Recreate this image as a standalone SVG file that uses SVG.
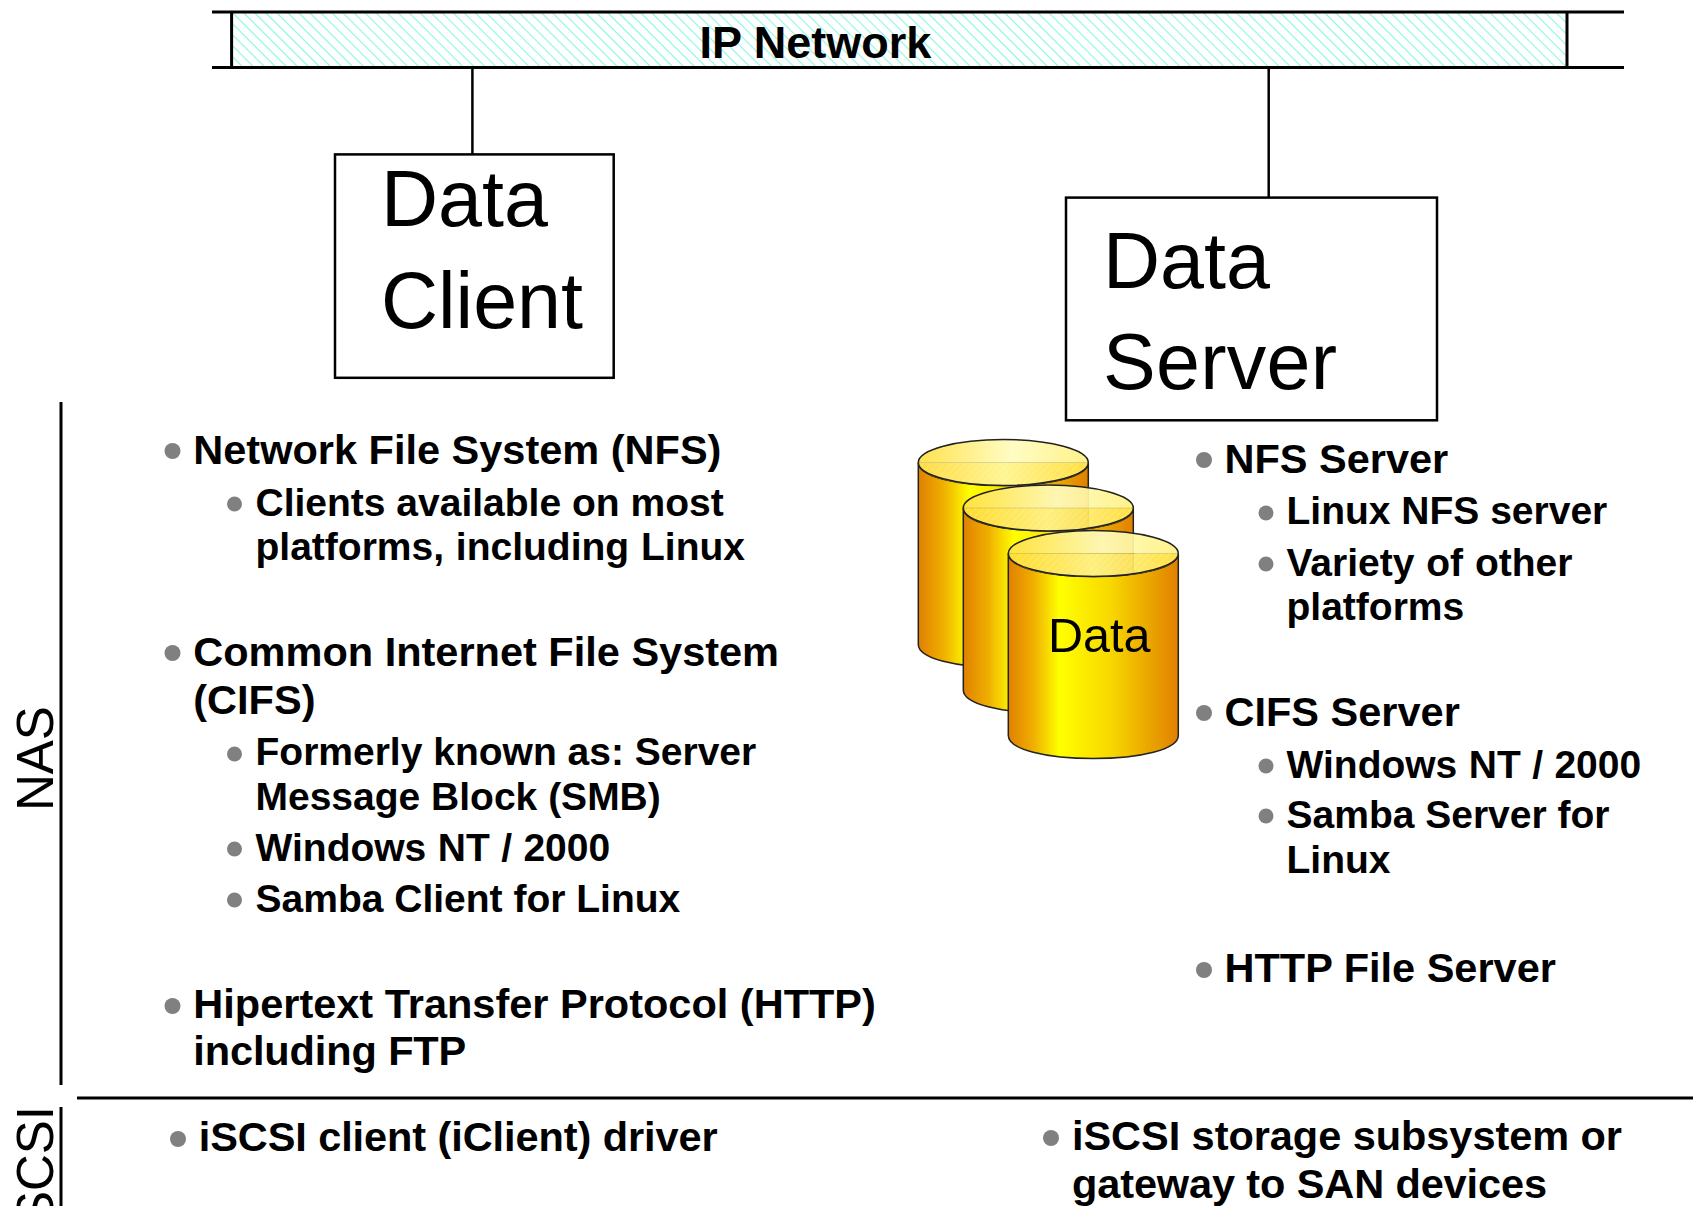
<svg xmlns="http://www.w3.org/2000/svg" width="1693" height="1206" viewBox="0 0 1693 1206">
<style>
text{font-family:"Liberation Sans",Arial,sans-serif;fill:#000}
.h{font-size:41.5px;font-weight:bold}
.s{font-size:39px;font-weight:bold}
.big{font-size:79px}
.side{font-size:51px}
.b1{fill:#808080}
.ln{stroke:#000;stroke-width:2.5;fill:none}
.thick{stroke:#000;stroke-width:3;fill:none}
.box{fill:#fff;stroke:#000;stroke-width:2.5}
.body{fill:url(#cylBody);stroke:#222;stroke-width:1.5}
.topU{fill:url(#cylTopU);fill-opacity:.93}
.topL{fill:url(#cylTopL);fill-opacity:.92}
.hatch{fill:url(#cylHatch)}
.rim{fill:none;stroke:#222;stroke-width:1.5}
.mid{stroke:#8a8a60;stroke-width:1;stroke-opacity:.3}
.ws1{word-spacing:1px}
.ws2{word-spacing:.6px}
</style>
<defs>
<pattern id="net" width="7.8" height="7.8" patternUnits="userSpaceOnUse" patternTransform="rotate(45)"><rect width="7.8" height="7.8" fill="#fff"/><rect width="7.8" height="1.1" fill="#88f8e0"/></pattern>
<pattern id="cylHatch" width="5" height="5" patternUnits="userSpaceOnUse" patternTransform="rotate(-45)"><rect width="5" height="1.2" fill="#fff" fill-opacity=".18"/></pattern>
<linearGradient id="cylBody" x1="0" x2="1" y1="0" y2="0"><stop offset="0" stop-color="#e08000"/><stop offset=".15" stop-color="#f0b000"/><stop offset=".3" stop-color="#ffff00"/><stop offset=".6" stop-color="#f8d800"/><stop offset="1" stop-color="#e08000"/></linearGradient>
<linearGradient id="cylTopU" x1="0" x2="1" y1="0" y2="0"><stop offset="0" stop-color="#ffe040"/><stop offset=".55" stop-color="#fffcc0"/><stop offset="1" stop-color="#fff080"/></linearGradient>
<linearGradient id="cylTopL" x1="0" x2="1" y1="0" y2="0"><stop offset="0" stop-color="#ffd830"/><stop offset=".5" stop-color="#fff488"/><stop offset="1" stop-color="#ffdc30"/></linearGradient>
<g id="cyl">
<path class="body" d="M0 23V205C0 219 38 228 85 228S170 219 170 205V23C170 37 132 46 85 46S0 37 0 23Z"/>
<path class="topU" d="M0 23C0 9 38 0 85 0S170 9 170 23Z"/>
<path class="topL" d="M0 23C0 37 38 46 85 46S170 37 170 23Z"/>
<path class="hatch" d="M0 23C0 37 38 46 85 46S170 37 170 23Z"/>
<line class="mid" x1="0" y1="23" x2="170" y2="23"/>
<ellipse class="rim" cx="85" cy="23" rx="85" ry="23"/>
</g>
</defs>
<g id="connectors">
<line class="ln" x1="472.4" y1="67" x2="472.4" y2="154"/>
<line class="ln" x1="1268.7" y1="67" x2="1268.7" y2="198"/>
<line class="thick" x1="61" y1="402" x2="61" y2="1085"/>
<line class="thick" x1="61" y1="1107" x2="61" y2="1206"/>
<line class="thick" x1="77" y1="1098" x2="1693" y2="1098"/>
</g>
<g id="ip-network">
<rect x="231.6" y="12" width="1335.4" height="55.5" fill="url(#net)"/>
<line class="thick" x1="212" y1="12" x2="1624" y2="12"/>
<line class="thick" x1="212" y1="67.5" x2="1624" y2="67.5"/>
<line class="thick" x1="231.6" y1="12" x2="231.6" y2="67.5"/>
<line class="thick" x1="1567" y1="12" x2="1567" y2="67.5"/>
<text x="699.5" y="58" font-size="45" font-weight="bold">IP Network</text>
</g>
<g id="data-client">
<rect class="box" x="335" y="154.4" width="278.7" height="223.4"/>
<text class="big" x="381" y="226">Data</text>
<text class="big" x="381" y="327.5">Client</text>
</g>
<g id="data-server">
<rect class="box" x="1066" y="197.6" width="371" height="222.7"/>
<text class="big" x="1103" y="288">Data</text>
<text class="big" x="1103" y="389" textLength="234">Server</text>
</g>
<g id="data-store">
<use href="#cyl" x="918.3" y="439.5"/>
<use href="#cyl" x="963.3" y="485"/>
<use href="#cyl" x="1008.3" y="530.5"/>
<text x="1048" y="652" font-size="48.5">Data</text>
</g>
<g id="nas-label"><text class="side" transform="translate(53 811) rotate(-90)">NAS</text></g>
<g id="iscsi-label"><text class="side" text-anchor="end" transform="translate(53 1106) rotate(-90)">iSCSI</text></g>
<g id="nas-client-list">
<circle class="b1" cx="172.5" cy="451" r="8"/><text class="h" x="193.3" y="464">Network File System (NFS)</text>
<circle class="b1" cx="234.5" cy="504" r="7.5"/><text class="s" x="255.5" y="516">Clients available on most</text>
<text class="s ws1" x="255.5" y="560">platforms, including Linux</text>
<circle class="b1" cx="172.5" cy="653" r="8"/><text class="h" x="193.3" y="666">Common Internet File System</text>
<text class="h" x="193.3" y="714">(CIFS)</text>
<circle class="b1" cx="234.5" cy="754" r="7.5"/><text class="s" x="255.5" y="765">Formerly known as: Server</text>
<text class="s" x="255.5" y="810">Message Block (SMB)</text>
<circle class="b1" cx="234.5" cy="849" r="7.5"/><text class="s ws2" x="255.5" y="861">Windows NT / 2000</text>
<circle class="b1" cx="234.5" cy="900" r="7.5"/><text class="s" x="255.5" y="912">Samba Client for Linux</text>
<circle class="b1" cx="172.5" cy="1006" r="8"/><text class="h" x="193.3" y="1018">Hipertext Transfer Protocol (HTTP)</text>
<text class="h" x="193.3" y="1065" textLength="273">including FTP</text>
</g>
<g id="nas-server-list">
<circle class="b1" cx="1204" cy="460" r="8"/><text class="h" x="1224.5" y="473">NFS Server</text>
<circle class="b1" cx="1266" cy="513" r="7.5"/><text class="s" x="1286.5" y="524">Linux NFS server</text>
<circle class="b1" cx="1266" cy="564" r="7.5"/><text class="s ws1" x="1286.5" y="576">Variety of other</text>
<text class="s" x="1286.5" y="620">platforms</text>
<circle class="b1" cx="1204" cy="713" r="8"/><text class="h" x="1224.5" y="726">CIFS Server</text>
<circle class="b1" cx="1266" cy="766" r="7.5"/><text class="s ws2" x="1286.5" y="778">Windows NT / 2000</text>
<circle class="b1" cx="1266" cy="816" r="7.5"/><text class="s" x="1286.5" y="828">Samba Server for</text>
<text class="s" x="1286.5" y="873">Linux</text>
<circle class="b1" cx="1204" cy="970" r="8"/><text class="h" x="1224.5" y="982">HTTP File Server</text>
</g>
<g id="iscsi-client-list">
<circle class="b1" cx="178" cy="1139" r="8"/><text class="h" x="198.7" y="1151" textLength="519">iSCSI client (iClient) driver</text>
</g>
<g id="iscsi-server-list">
<circle class="b1" cx="1051" cy="1138" r="8"/><text class="h" x="1072" y="1150" textLength="550">iSCSI storage subsystem or</text>
<text class="h" x="1072" y="1198" textLength="475">gateway to SAN devices</text>
</g>
</svg>
